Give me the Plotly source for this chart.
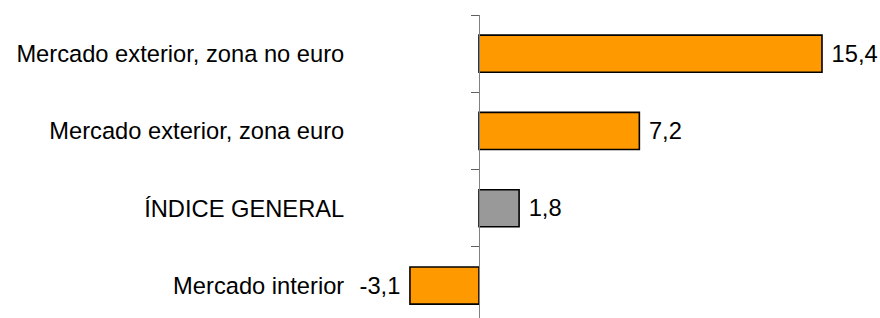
import plotly.graph_objects as go

categories = ["Mercado exterior, zona no euro", "Mercado exterior, zona euro", "ÍNDICE GENERAL", "Mercado interior"]
values = [15.4, 7.2, 1.8, -3.1]
colors = ["#FF9900", "#FF9900", "#999999", "#FF9900"]
label_templates = ["\u00a0%{x:.1f}" if v >= 0 else "%{x:.1f}\u00a0" for v in values]

FONT = "Liberation Sans, Arial, sans-serif"
FS = 23.7
W, H = 880, 318
plot_left, plot_right = 380, 860
zero_px = 479
px_per_unit = (822 - 479) / 15.4
xmin = -(zero_px - plot_left) / px_per_unit
xmax = (plot_right - zero_px) / px_per_unit
ypos = (zero_px - plot_left) / (plot_right - plot_left)

fig = go.Figure(go.Bar(
    x=values, y=categories, orientation="h",
    marker=dict(color=colors, line=dict(color="#000000", width=1.6)),
    width=0.48,
    texttemplate=label_templates, textposition="outside",
    textfont=dict(family=FONT, size=FS, color="#000000"),
    cliponaxis=False,
    hoverinfo="skip",
))

fig.update_layout(
    width=W, height=H,
    margin=dict(l=plot_left, r=W - plot_right, t=15, b=0),
    paper_bgcolor="white", plot_bgcolor="white",
    separators=",.",
    showlegend=False,
    font=dict(family=FONT, size=FS, color="#000000"),
    xaxis=dict(range=[xmin, xmax], visible=False, showgrid=False, zeroline=False),
    yaxis=dict(
        type="category", categoryorder="array", categoryarray=categories,
        range=[3.42, -0.5], anchor="free", position=ypos,
        showline=True, linecolor="#808080", linewidth=1,
        ticks="outside", ticklen=8, tickcolor="#606060", tickwidth=1,
        tickson="boundaries", ticklabelstandoff=130,
        showgrid=False, zeroline=False,
        tickfont=dict(family=FONT, size=FS, color="#000000"),
    ),
)

fig.write_html(
    "out.html",
    config={"displayModeBar": False, "staticPlot": True},
    post_script="document.body.style.margin='0';document.body.style.overflow='hidden';",
)
